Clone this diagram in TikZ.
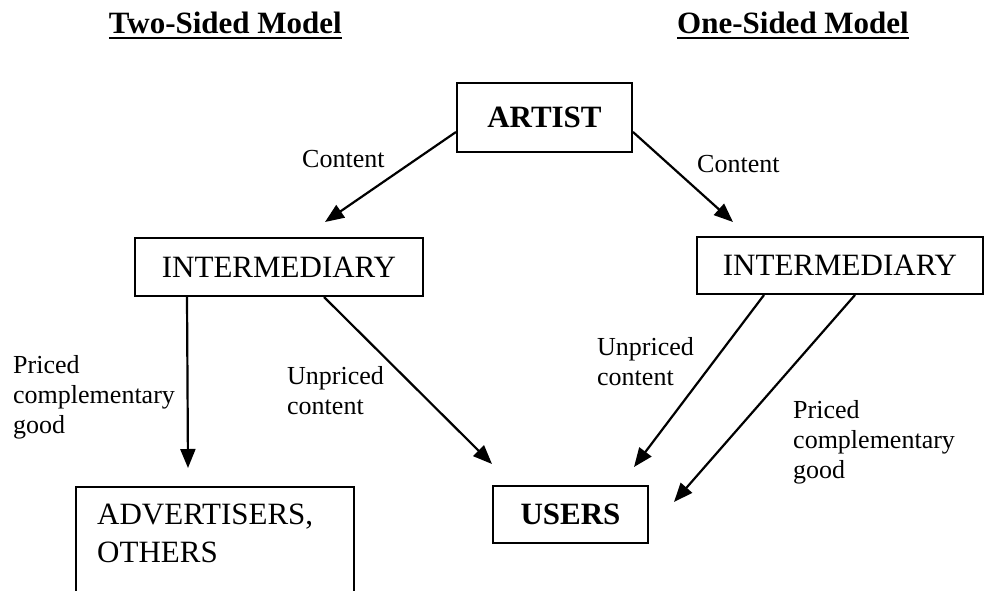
\documentclass[tikz,border=0pt]{standalone}
\usepackage{fontspec}
\setmainfont{Liberation Serif}
\usetikzlibrary{arrows.meta,calc}

\begin{document}
\begin{tikzpicture}[x=1pt,y=-1pt,
  boxnode/.style={draw, line width=2pt, inner sep=0pt,
    font=\fontsize{31}{37}\selectfont},
  boldbox/.style={boxnode, font=\fontsize{31}{37}\selectfont\bfseries},
  lbl/.style={anchor=north west, inner sep=0pt, align=left,
    font=\fontsize{26}{30}\selectfont},
  heading/.style={inner sep=0pt, font=\fontsize{31}{37}\selectfont\bfseries},
  flow/.style={line width=2.2pt, -{Triangle[length=19pt,width=15pt]}}
]
\useasboundingbox (0,0) rectangle (989,590);

% column headings
\node[heading, anchor=base east] (twos) at (342,33) {Two-Sided Model};
\node[heading, anchor=base west] (ones) at (677,33) {One-Sided Model};
\draw[line width=2.5pt] ([yshift=-5pt]twos.base west) -- ([yshift=-5pt]twos.base east);
\draw[line width=2.5pt] ([yshift=-5pt]ones.base west) -- ([yshift=-5pt]ones.base east);

% boxes
\node[boldbox, minimum width=175, minimum height=69] (artist) at (544.5,117.5) {ARTIST};
\node[boxnode, minimum width=288, minimum height=58] (intL) at (279,267) {INTERMEDIARY};
\node[boxnode, minimum width=286, minimum height=57] (intR) at (840,265.5) {INTERMEDIARY};
\node[boldbox, minimum width=155, minimum height=57] (users) at (570.5,514.5) {USERS};
\node[boxnode, anchor=north west, minimum width=278, minimum height=130] (adv) at (75,486) {};
\node[anchor=north west, inner sep=0pt, align=left,
  font=\fontsize{31}{38}\selectfont] (advtext) at ($(adv.north west)+(22,18)$)
  {ADVERTISERS,\\OTHERS};

% flows
\draw[flow] ($(artist.north west)+(0,50)$) -- ($(intL.north)+(46,-15)$);
\draw[flow] ($(artist.north east)+(0,50)$) -- ($(intR.north)+(-107,-14)$);
\draw[flow] ($(intL.south west)+(53,0)$) -- ($(adv.north west)+(113,-18)$);
\draw[flow] ($(intL.south)+(45,0)$) -- ($(users.north west)+(0,-21)$);
\draw[flow] ($(intR.south)+(-76,0)$) -- ($(users.north east)+(-15,-18)$);
\draw[flow] ($(intR.south)+(15,0)$) -- ($(users.east)+(25,-12.5)$);

% flow labels
\node[lbl] (cL) at (302,150) {Content};
\node[lbl] (cR) at (697,155) {Content};
\node[lbl] (pL) at (13,355) {Priced\\complementary\\good};
\node[lbl] (uL) at (287,366) {Unpriced\\content};
\node[lbl] (uR) at (597,337) {Unpriced\\content};
\node[lbl] (pR) at (793,400) {Priced\\complementary\\good};
\end{tikzpicture}
\end{document}
